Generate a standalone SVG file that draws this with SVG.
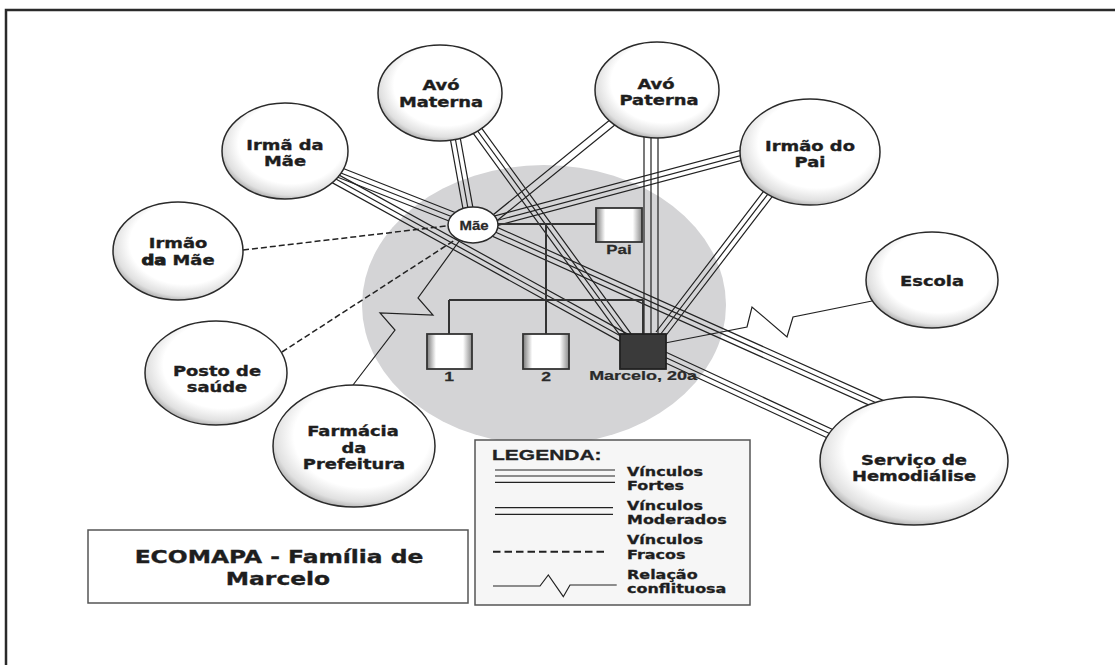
<svg xmlns="http://www.w3.org/2000/svg" width="1115" height="665" viewBox="0 0 1115 665">
<defs>
 <radialGradient id="ng" cx="0.55" cy="0.42" r="0.6">
  <stop offset="0" stop-color="#ffffff"/>
  <stop offset="0.7" stop-color="#ffffff"/>
  <stop offset="0.9" stop-color="#e0e0e0"/>
  <stop offset="1" stop-color="#acacac"/>
 </radialGradient>
 <linearGradient id="sg" x1="0" x2="1" y1="0" y2="0">
  <stop offset="0" stop-color="#7a7a7a"/>
  <stop offset="0.2" stop-color="#ffffff"/>
  <stop offset="0.8" stop-color="#ffffff"/>
  <stop offset="1" stop-color="#8a8a8a"/>
 </linearGradient>
</defs>
<style>
 .bond{stroke:#222;stroke-width:1.2;fill:none}
 .weak{stroke:#222;stroke-width:1.5;stroke-dasharray:6 3;fill:none}
 .conf{stroke:#222;stroke-width:1.2;fill:none}
 .fam{stroke:#333;stroke-width:2;fill:none}
 .node{fill:url(#ng);stroke:#2a2a2a;stroke-width:1.5}
 .sq{fill:url(#sg);stroke:#333;stroke-width:1.8}
 .nl{font-family:"DejaVu Sans",Verdana,sans-serif;font-weight:bold;font-size:14px;fill:#1e1e1e;stroke:#1e1e1e;stroke-width:0.35;text-anchor:middle}
 .fl{font-family:"Liberation Sans",Arial,sans-serif;font-weight:bold;font-size:13.5px;fill:#2a2a2a;stroke:#2a2a2a;stroke-width:0.25;text-anchor:middle}
 .lg{font-family:"DejaVu Sans",Verdana,sans-serif;font-weight:bold;font-size:12.3px;fill:#1e1e1e;stroke:#1e1e1e;stroke-width:0.3}
 .box{fill:#ffffff;stroke:#555;stroke-width:1.5}
</style>

<rect width="1115" height="665" fill="#ffffff"/>
<path d="M6 665 V10 H1115" fill="none" stroke="#2a2a2a" stroke-width="2.5"/>

<ellipse id="household" cx="544" cy="305" rx="182" ry="140" fill="#d4d4d6"/>

<g id="connectors">
 <!-- Irmã da Mãe - Mãe (strong) -->
 <path class="bond" d="M285 151 L473 225 M283.2 155.7 L471.2 229.7 M286.8 146.3 L474.8 220.3"/>
 <!-- Irmã da Mãe - Marcelo (strong) -->
 <path class="bond" d="M285 151 L628 340 M282.6 155.4 L625.6 344.4 M287.4 146.6 L630.4 335.6"/>
 <!-- Avó Materna - Mãe (strong) -->
 <path class="bond" d="M447 93 L471 225 M442.1 93.9 L466.1 225.9 M451.9 92.1 L475.9 224.1"/>
 <!-- Avó Materna - Marcelo (strong) -->
 <path class="bond" d="M450 93 L628 338 M446 95.9 L624 340.9 M454 90.1 L632 335.1"/>
 <!-- Avó Paterna - Mãe (moderate) -->
 <path class="bond" d="M642.2 102.7 L482.2 232.7 M637.8 97.3 L477.8 227.3"/>
 <!-- Avó Paterna - Marcelo (strong) -->
 <path class="bond" d="M644 90 V345 M651 90 V345 M658 90 V345"/>
 <!-- Irmão do Pai - Mãe (strong) -->
 <path class="bond" d="M780 145 L480 225 M778.7 140.2 L478.7 220.2 M781.3 149.8 L481.3 229.8"/>
 <!-- Irmão do Pai - Marcelo (strong) -->
 <path class="bond" d="M800 152 L660 335 M796 149 L656 332 M804 155 L664 338"/>
 <!-- Mãe - Serviço de Hemodiálise (strong) -->
 <path class="bond" d="M473 222 L890 409 M471 226.6 L888 413.6 M475 217.4 L892 404.4"/>
 <!-- Marcelo - Serviço de Hemodiálise (strong) -->
 <path class="bond" d="M643 347 L850 443 M640.9 351.5 L847.9 447.5 M645.1 342.5 L852.1 438.5"/>
 <!-- weak -->
 <path class="weak" d="M243 250 L455 225"/>
 <path class="weak" d="M282 352 L458 238"/>
 <!-- conflict -->
 <polyline class="conf" points="460,240 418,298 433,315 380,313 395,330 353,385"/>
 <polyline class="conf" points="660,344 747,327 752,307 787,337 793,317 872,301"/>
 <!-- family lines -->
 <path class="fam" d="M497 224 H596 M546 224 V334 M449 300 H643 M449 300 V334 M643 300 V334"/>
</g>

<g id="irma-da-mae">
 <ellipse class="node" cx="285" cy="151" rx="63" ry="48"/>
 <text class="nl" transform="translate(285 150) scale(1.28 1)">Irmã da</text>
 <text class="nl" transform="translate(285 166) scale(1.28 1)">Mãe</text>
</g>
<g id="avo-materna">
 <ellipse class="node" cx="440" cy="93" rx="62" ry="48"/>
 <text class="nl" transform="translate(441 90) scale(1.28 1)">Avó</text>
 <text class="nl" transform="translate(441 107) scale(1.28 1)">Materna</text>
</g>
<g id="avo-paterna">
 <ellipse class="node" cx="657" cy="90" rx="62" ry="48"/>
 <text class="nl" transform="translate(656 89) scale(1.28 1)">Avó</text>
 <text class="nl" transform="translate(659 105) scale(1.28 1)">Paterna</text>
</g>
<g id="irmao-do-pai">
 <ellipse class="node" cx="810" cy="152" rx="70" ry="53"/>
 <text class="nl" transform="translate(810 151) scale(1.28 1)">Irmão do</text>
 <text class="nl" transform="translate(810 167) scale(1.28 1)">Pai</text>
</g>
<g id="irmao-da-mae">
 <ellipse class="node" cx="178" cy="251" rx="65" ry="49"/>
 <text class="nl" transform="translate(178 248) scale(1.28 1)">Irmão</text>
 <text class="nl" transform="translate(178 265) scale(1.28 1)"><tspan stroke-width="0.9">da</tspan> Mãe</text>
</g>
<g id="posto-de-saude">
 <ellipse class="node" cx="216" cy="373" rx="71" ry="52"/>
 <text class="nl" transform="translate(217 376) scale(1.28 1)">Posto de</text>
 <text class="nl" transform="translate(217 392) scale(1.28 1)">saúde</text>
</g>
<g id="farmacia">
 <ellipse class="node" cx="354" cy="446" rx="81" ry="61"/>
 <text class="nl" transform="translate(353 436) scale(1.28 1)">Farmácia</text>
 <text class="nl" transform="translate(354 453) scale(1.28 1)">da</text>
 <text class="nl" transform="translate(354 469) scale(1.28 1)">Prefeitura</text>
</g>
<g id="escola">
 <ellipse class="node" cx="932" cy="280" rx="66" ry="48"/>
 <text class="nl" transform="translate(932 286) scale(1.28 1)">Escola</text>
</g>
<g id="servico-hemodialise">
 <ellipse class="node" cx="914" cy="461" rx="94" ry="64"/>
 <text class="nl" transform="translate(914 465) scale(1.28 1)">Serviço de</text>
 <text class="nl" transform="translate(914 481) scale(1.28 1)">Hemodiálise</text>
</g>

<g id="mae">
 <ellipse cx="473" cy="225" rx="25" ry="18" fill="#ffffff" stroke="#2a2a2a" stroke-width="1.5"/>
 <text class="fl" style="font-size:12px" transform="translate(474 230) scale(1.25 1)">Mãe</text>
</g>
<g id="pai">
 <rect class="sq" x="596" y="208" width="46" height="34"/>
 <text class="fl" transform="translate(619 254) scale(1.25 1)">Pai</text>
</g>
<g id="filho-1">
 <rect class="sq" x="427" y="334" width="45" height="35"/>
 <text class="fl" transform="translate(449 381) scale(1.3 1)">1</text>
</g>
<g id="filho-2">
 <rect class="sq" x="523" y="334" width="46" height="35"/>
 <text class="fl" transform="translate(546 381) scale(1.3 1)">2</text>
</g>
<g id="marcelo">
 <rect x="620" y="334" width="46" height="35" fill="#3a3a3a" stroke="#222" stroke-width="1.8"/>
 <text class="fl" transform="translate(643 380) scale(1.33 1)">Marcelo, 20a</text>
</g>

<g id="legenda">
 <rect x="475" y="440" width="275" height="165" fill="#f6f6f6" stroke="#555" stroke-width="1.5"/>
 <text style="font-family:'Liberation Sans',Arial,sans-serif;font-weight:bold;font-size:15px;fill:#222;stroke:#222;stroke-width:0.3" transform="translate(492 460) scale(1.4 1)">LEGENDA:</text>
 <path class="bond" d="M495 470 H615 M495 476 H615 M495 482.3 H615"/>
 <path class="bond" d="M495 507.7 H613 M495 514.3 H613"/>
 <path class="weak" style="stroke-width:2;stroke-dasharray:7.5 4" d="M493 551.7 H605"/>
 <polyline class="conf" points="493,586 540,586 548.3,575 563.3,596.7 570,585 616.7,585"/>
 <text class="lg" transform="translate(627 476) scale(1.3 1)">Vínculos</text>
 <text class="lg" transform="translate(627 489.5) scale(1.3 1)">Fortes</text>
 <text class="lg" transform="translate(627 510) scale(1.3 1)">Vínculos</text>
 <text class="lg" transform="translate(627 523.5) scale(1.3 1)">Moderados</text>
 <text class="lg" transform="translate(627 544) scale(1.3 1)">Vínculos</text>
 <text class="lg" transform="translate(627 558.5) scale(1.3 1)">Fracos</text>
 <text class="lg" transform="translate(627 578.5) scale(1.3 1)">Relação</text>
 <text class="lg" transform="translate(627 593) scale(1.3 1)">conflituosa</text>
</g>

<g id="titulo">
 <rect class="box" x="88" y="530" width="380" height="73"/>
 <text class="nl" style="font-size:18px" transform="translate(279 563) scale(1.3 1)">ECOMAPA - Família de</text>
 <text class="nl" style="font-size:18px" transform="translate(278 585) scale(1.3 1)">Marcelo</text>
</g>
</svg>
